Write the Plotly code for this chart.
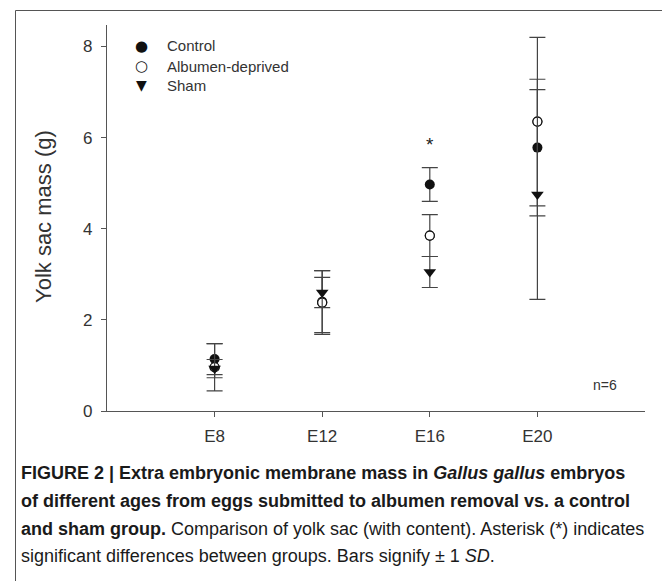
import plotly.graph_objects as go

categories = ["E8", "E12", "E16", "E20"]
x_pos = [1, 2, 3, 4]

control_mean = [1.14, 2.40, 4.97, 5.78]
control_sd = [0.34, 0.68, 0.37, 1.50]
albumen_mean = [0.96, 2.38, 3.85, 6.35]
albumen_sd = [0.52, 0.70, 0.46, 1.85]
sham_mean = [0.93, 2.60, 3.05, 4.75]
sham_sd = [0.20, 0.33, 0.34, 2.30]

series_names = ["Control", "Albumen-deprived", "Sham"]
legend_glyphs = ["\u25CF", "\u25CB", "\u25BC"]

y_ticks = [0, 2, 4, 6, 8]

# page body has an 8px margin: figure is offset by (8, 8) on screen
OFF = 8
W, H = 670 - OFF, 581 - OFF
L, R, T, B = 107 - OFF, 25, 25 - OFF, 170
pw, ph = W - L - R, H - T - B

def px(x):
    return (x - OFF - L) / pw

def py(y):
    return (H - B - (y - OFF)) / ph

err_col = "#444444"
mk_col = "#111111"
txt_col = "#333333"

def err(sd):
    return dict(type="data", array=sd, visible=True, color=err_col, thickness=1.2, width=8)

fig = go.Figure()
fig.add_trace(go.Scatter(x=x_pos, y=control_mean, error_y=err(control_sd), mode="markers",
                         name=series_names[0],
                         marker=dict(symbol="circle", size=10, color=mk_col, line=dict(width=0))))
fig.add_trace(go.Scatter(x=x_pos, y=albumen_mean, error_y=err(albumen_sd), mode="markers",
                         name=series_names[1],
                         marker=dict(symbol="circle-open", size=9, color=mk_col, line=dict(width=1.2))))
fig.add_trace(go.Scatter(x=x_pos, y=albumen_mean, mode="markers", showlegend=False, hoverinfo="skip",
                         marker=dict(symbol="circle", size=9, color="white", line=dict(width=1.2, color=mk_col))))
fig.add_trace(go.Scatter(x=x_pos, y=sham_mean, error_y=err(sham_sd), mode="markers",
                         name=series_names[2],
                         marker=dict(symbol="triangle-down", size=11, color=mk_col, line=dict(width=0))))

fig.update_layout(
    width=W, height=H,
    margin=dict(l=L, r=R, t=T, b=B),
    paper_bgcolor="white", plot_bgcolor="white",
    font=dict(family="Liberation Sans, Arial, sans-serif", color=txt_col),
    showlegend=False,
    xaxis=dict(range=[0, 5], tickmode="array", tickvals=x_pos, ticktext=categories,
               showline=True, linecolor="#555555", linewidth=1.2, ticks="outside",
               ticklen=5, tickcolor="#555555", showgrid=False, zeroline=False,
               ticklabelstandoff=4,
               tickfont=dict(size=17, color=txt_col)),
    yaxis=dict(range=[0, 8.47], tickmode="array", tickvals=y_ticks,
               showline=True, linecolor="#555555", linewidth=1.2, ticks="outside",
               ticklen=5, tickcolor="#555555", showgrid=False, zeroline=False,
               ticklabelstandoff=5,
               tickfont=dict(size=17, color=txt_col)),
)

# legend drawn as text rows
legend_rows = [46, 66, 85]
glyph_sizes = [15, 15, 14]
for name, g, gs, yy in zip(series_names, legend_glyphs, glyph_sizes, legend_rows):
    fig.add_annotation(x=px(141), y=py(yy), xref="paper", yref="paper", text=g, showarrow=False,
                       xanchor="center", yanchor="middle",
                       font=dict(size=gs, family="DejaVu Sans", color=mk_col))
    fig.add_annotation(x=px(165), y=py(yy), xref="paper", yref="paper", text=name, showarrow=False,
                       xanchor="left", yanchor="middle",
                       font=dict(size=15, color=txt_col))

# y-axis title
fig.add_annotation(x=px(43), y=py(217), xref="paper", yref="paper", text="Yolk sac mass (g)",
                   textangle=-90, showarrow=False, xanchor="center", yanchor="middle",
                   font=dict(size=22, color=txt_col))

fig.add_annotation(x=3, y=5.84, text="*", showarrow=False, font=dict(size=19, color="#222222"),
                   xref="x", yref="y")
fig.add_annotation(x=4.63, y=0.57, text="n=6", showarrow=False, font=dict(size=14, color=txt_col),
                   xref="x", yref="y")

# outer frame
fig.add_shape(type="rect", xref="paper", yref="paper",
              x0=px(15.5), x1=px(667.5), y0=py(620), y1=py(10.5),
              line=dict(color="#555555", width=1), fillcolor="rgba(0,0,0,0)", layer="below")

cap_font = "Liberation Sans Narrow, Arial Narrow, Liberation Sans, sans-serif"
lines = [
    "<b>FIGURE 2 | Extra embryonic membrane mass in <i>Gallus gallus</i> embryos</b>",
    "<b>of different ages from eggs submitted to albumen removal vs. a control</b>",
    "<b>and sham group.</b> Comparison of yolk sac (with content). Asterisk (*) indicates",
    "significant differences between groups. Bars signify \u00b1 1 <i>SD</i>.",
]
line_y = [473, 501, 529, 556]
for t, yy in zip(lines, line_y):
    fig.add_annotation(x=px(19), y=py(yy), xref="paper", yref="paper", text=t, showarrow=False,
                       xanchor="left", yanchor="middle", align="left",
                       font=dict(size=18, family=cap_font, color="#1a1a1a"))

fig.write_html("out.html")
